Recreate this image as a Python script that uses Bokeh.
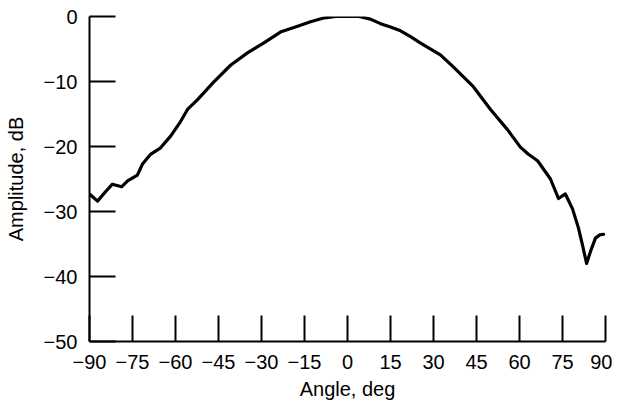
from bokeh.plotting import figure
from bokeh.models import Range1d, FixedTicker
from bokeh.embed import file_html
from bokeh.resources import INLINE

angles = [-90, -87.2, -84.5, -82, -78.8, -76.7, -73.3, -71.5, -68.7, -65.2, -61.7,
          -58.3, -55.8, -52.3, -46.7, -40.8, -34.9, -29.3, -23.4, -17.4, -12.9,
          -8, -4, 0, 4, 8, 11.5, 15, 18.5, 22, 25.5, 32.4, 37, 43.9, 49.9, 55.8, 60.3,
          63.1, 66.3, 70.8, 73.6, 76, 78.5, 80.6, 82, 83.4, 84.8, 86.5, 88, 89.3]
amplitude = [-27.3, -28.4, -27.0, -25.8, -26.2, -25.3, -24.4, -22.7, -21.2, -20.2, -18.4,
             -16.2, -14.3, -12.8, -10.1, -7.5, -5.6, -4.1, -2.4, -1.5, -0.8,
             -0.2, 0.0, 0.0, 0.0, -0.4, -1.1, -1.6, -2.2, -3.1, -4.1, -5.9, -7.8, -10.8, -14.3, -17.4, -20.1,
             -21.2, -22.2, -25.0, -28.0, -27.3, -29.6, -32.6, -35.2, -38.0, -36.1, -34.1, -33.6, -33.5]

x_ticks = [-90, -75, -60, -45, -30, -15, 0, 15, 30, 45, 60, 75, 90]
y_ticks = [0, -10, -20, -30, -40, -50]

FONT = "Liberation Sans"

p = figure(width=612, height=402, output_backend="svg", toolbar_location=None,
           x_range=Range1d(-90, 90), y_range=Range1d(-50, 0),
           min_border_left=89, min_border_right=7, min_border_top=16, min_border_bottom=59)
p.outline_line_color = None
p.grid.visible = False

p.line(angles, amplitude, line_color="black", line_width=3.2, line_join="round", line_cap="round")

def lab(v):
    return str(v).replace("-", "\u2212")

for ax, ticks in ((p.xaxis[0], x_ticks), (p.yaxis[0], y_ticks)):
    ax.ticker = FixedTicker(ticks=ticks)
    ax.minor_tick_line_color = None
    ax.major_tick_in = 26
    ax.major_tick_out = 0
    ax.major_tick_line_width = 2
    ax.major_tick_line_color = "black"
    ax.axis_line_width = 2
    ax.axis_line_color = "black"
    ax.major_label_text_font = FONT
    ax.major_label_text_font_size = "20px"
    ax.major_label_text_color = "black"
    ax.axis_label_text_font = FONT
    ax.axis_label_text_font_size = "20px"
    ax.axis_label_text_font_style = "normal"
    ax.axis_label_text_color = "black"
    ax.major_label_overrides = {t: lab(t) for t in ticks}

p.xaxis.axis_label = "Angle, deg"
p.yaxis.axis_label = "Amplitude, dB"
p.xaxis.major_label_standoff = 13
p.yaxis.major_label_standoff = 12
p.xaxis.axis_label_standoff = 6
p.yaxis.axis_label_standoff = 14

open("out.html", "w").write(file_html(p, INLINE))
